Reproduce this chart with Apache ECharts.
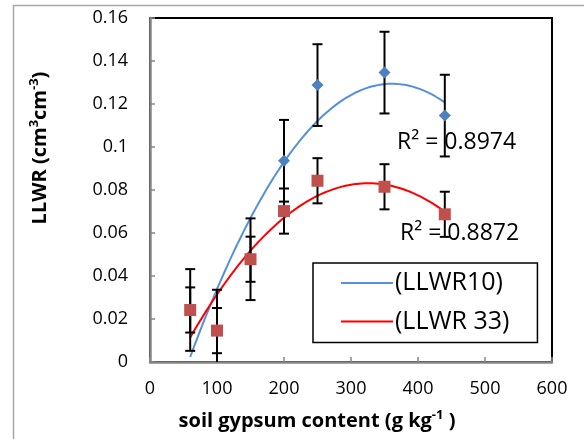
<!DOCTYPE html>
<html><head><meta charset="utf-8">
<script src="https://cdn.jsdelivr.net/npm/echarts@6/dist/echarts.min.js"></script>
<style>html,body{margin:0;padding:0;background:#fff}#c{width:584px;height:439px}</style>
</head><body><div id="c"></div>
<script>
// ---- data ----
const gypsum = [60, 100, 150, 200, 250, 350, 440];            // soil gypsum content (g kg-1)
const llwr10 = [0.0242, 0.0146, 0.0478, 0.0936, 0.1288, 0.1346, 0.1146];
const llwr33 = [0.0242, 0.0146, 0.0478, 0.0702, 0.0843, 0.0815, 0.0687];
const err10  = [0.019, 0.019, 0.019, 0.019, 0.019, 0.019, 0.019];
const err33  = [0.0105, 0.0105, 0.0105, 0.0105, 0.0105, 0.0105, 0.0105];
const seriesNames = ['(LLWR10)', '(LLWR 33)'];
const r2Labels = ['R\u00B2 = 0.8974', 'R\u00B2 = 0.8872'];
const xTickLabels = ['0', '100', '200', '300', '400', '500', '600'];
const yTickLabels = ['0', '0.02', '0.04', '0.06', '0.08', '0.1', '0.12', '0.14', '0.16'];

// ---- 2nd order polynomial trendline (least squares) from the data ----
function quadFit(xs, ys) {
  let S = [0,0,0,0,0], T = [0,0,0];
  xs.forEach((x, i) => {
    for (let k = 0; k < 5; k++) S[k] += Math.pow(x, k);
    for (let k = 0; k < 3; k++) T[k] += Math.pow(x, k) * ys[i];
  });
  const M = [[S[0],S[1],S[2],T[0]],[S[1],S[2],S[3],T[1]],[S[2],S[3],S[4],T[2]]];
  for (let c = 0; c < 3; c++) {
    for (let r = c + 1; r < 3; r++) {
      const f = M[r][c] / M[c][c];
      for (let k = c; k < 4; k++) M[r][k] -= f * M[c][k];
    }
  }
  const a = [0,0,0];
  for (let r = 2; r >= 0; r--) {
    let s = M[r][3];
    for (let k = r + 1; k < 3; k++) s -= M[r][k] * a[k];
    a[r] = s / M[r][r];
  }
  return a;
}
function trend(xs, ys) {
  const a = quadFit(xs, ys);
  const lo = Math.min(...xs), hi = Math.max(...xs), pts = [];
  for (let x = lo; x <= hi + 1e-9; x += 4) pts.push([x, a[0] + a[1]*x + a[2]*x*x]);
  return pts;
}

const FONT = '"Open Sans", "DejaVu Sans", sans-serif';
const blueLine = '#5591DB', redLine = '#FF0000';
const blueMark = '#4F81BD', redMark = '#C0504D';

function errRender(params, api) {
  const x = api.value(0), y = api.value(1), e = api.value(2);
  const hiV = y + e, loV = Math.max(0, y - e);
  const pHi = api.coord([x, hiV]), pLo = api.coord([x, loV]);
  const h = 5, st = { stroke: '#000', lineWidth: 2 };
  const ch = [
    { type: 'line', shape: { x1: pHi[0], y1: pHi[1], x2: pLo[0], y2: pLo[1] }, style: st },
    { type: 'line', shape: { x1: pHi[0]-h, y1: pHi[1], x2: pHi[0]+h, y2: pHi[1] }, style: st }
  ];
  if (y - e >= 0) ch.push({ type: 'line', shape: { x1: pLo[0]-h, y1: pLo[1], x2: pLo[0]+h, y2: pLo[1] }, style: st });
  return { type: 'group', children: ch };
}

const titleRich = {
  b: { fontFamily: FONT, fontWeight: 'bold', fontSize: 20, lineHeight: 24, color: '#000' },
  s: { fontFamily: FONT, fontWeight: 'bold', fontSize: 13, lineHeight: 13, color: '#000', verticalAlign: 'top' }
};

const chart = echarts.init(document.getElementById('c'), null, { renderer: 'canvas' });
chart.setOption({
  animation: false,
  backgroundColor: '#fff',
  textStyle: { fontFamily: FONT },
  grid: { left: 150, top: 18, right: 32, bottom: 77, show: true, borderColor: '#000', borderWidth: 2, backgroundColor: 'transparent' },
  xAxis: {
    type: 'value', min: 0, max: 600, interval: 100,
    axisLine: { lineStyle: { color: '#868686', width: 2.5 } },
    axisTick: { show: true, inside: true, length: 5, lineStyle: { color: '#868686', width: 1.5 } },
    splitLine: { show: false },
    axisLabel: { margin: 18, color: '#000', fontSize: 18, fontFamily: FONT,
      formatter: (v) => xTickLabels[Math.round(v / 100)] }
  },
  yAxis: {
    type: 'value', min: 0, max: 0.16, interval: 0.02,
    axisLine: { show: true, lineStyle: { color: '#868686', width: 2.5 } },
    axisTick: { show: true, inside: true, length: 5, lineStyle: { color: '#868686', width: 1.5 } },
    splitLine: { show: false },
    axisLabel: { margin: 22, color: '#000', fontSize: 18, fontFamily: FONT,
      formatter: (v) => yTickLabels[Math.round(v / 0.02)] }
  },
  legend: {
    data: seriesNames,
    orient: 'vertical', left: 313, top: 263,
    padding: [7, 28, 8, 28], itemGap: 12.5,
    borderColor: '#000', borderWidth: 1.5, backgroundColor: '#fff',
    icon: 'rect', itemWidth: 52, itemHeight: 2,
    textStyle: { fontSize: 25, lineHeight: 26, color: '#000', fontFamily: FONT, padding: [0, 0, 0, -3] }
  },
  series: [
    { name: seriesNames[0], type: 'line', data: trend(gypsum, llwr10), showSymbol: false, symbol: 'none',
      lineStyle: { color: blueLine, width: 2 }, itemStyle: { color: blueLine }, z: 2, silent: true },
    { name: seriesNames[1], type: 'line', data: trend(gypsum, llwr33), showSymbol: false, symbol: 'none',
      lineStyle: { color: redLine, width: 2 }, itemStyle: { color: redLine }, z: 2, silent: true },
    { name: 'err10', type: 'custom', renderItem: errRender, z: 3,
      data: gypsum.map((g, i) => [g, llwr10[i], err10[i]]) },
    { name: 'err33', type: 'custom', renderItem: errRender, z: 3,
      data: gypsum.map((g, i) => [g, llwr33[i], err33[i]]) },
    { name: 'LLWR10 pts', type: 'scatter', symbol: 'diamond', symbolSize: 12, z: 4,
      itemStyle: { color: blueMark, opacity: 1 }, data: gypsum.map((g, i) => [g, llwr10[i]]) },
    { name: 'LLWR33 pts', type: 'scatter', symbol: 'rect', symbolSize: 12, z: 5,
      itemStyle: { color: redMark, opacity: 1 }, data: gypsum.map((g, i) => [g, llwr33[i]]) }
  ],
  graphic: [
    { type: 'rect', silent: true, z: -10, shape: { x: 13.5, y: 5.5, width: 700, height: 700 },
      style: { fill: 'none', stroke: '#A6A6A6', lineWidth: 1.5 } },
    { type: 'text', z: 100, x: 40, y: 148, rotation: Math.PI / 2,
      style: { text: '{b|LLWR (cm}{s|3}{b|cm}{s|-3}{b|)}', rich: titleRich, align: 'center', verticalAlign: 'middle' } },
    { type: 'text', z: 100, x: 317, y: 421,
      style: { text: '{b|soil gypsum content (g kg}{s|-1}{b| )}', rich: titleRich, align: 'center', verticalAlign: 'middle' } },
    { type: 'text', z: 100, x: 397, y: 142,
      style: { text: r2Labels[0], font: '23px ' + FONT, fill: '#000', align: 'left', verticalAlign: 'middle' } },
    { type: 'text', z: 100, x: 400, y: 233,
      style: { text: r2Labels[1], font: '23px ' + FONT, fill: '#000', align: 'left', verticalAlign: 'middle' } }
  ]
});
</script></body></html>
